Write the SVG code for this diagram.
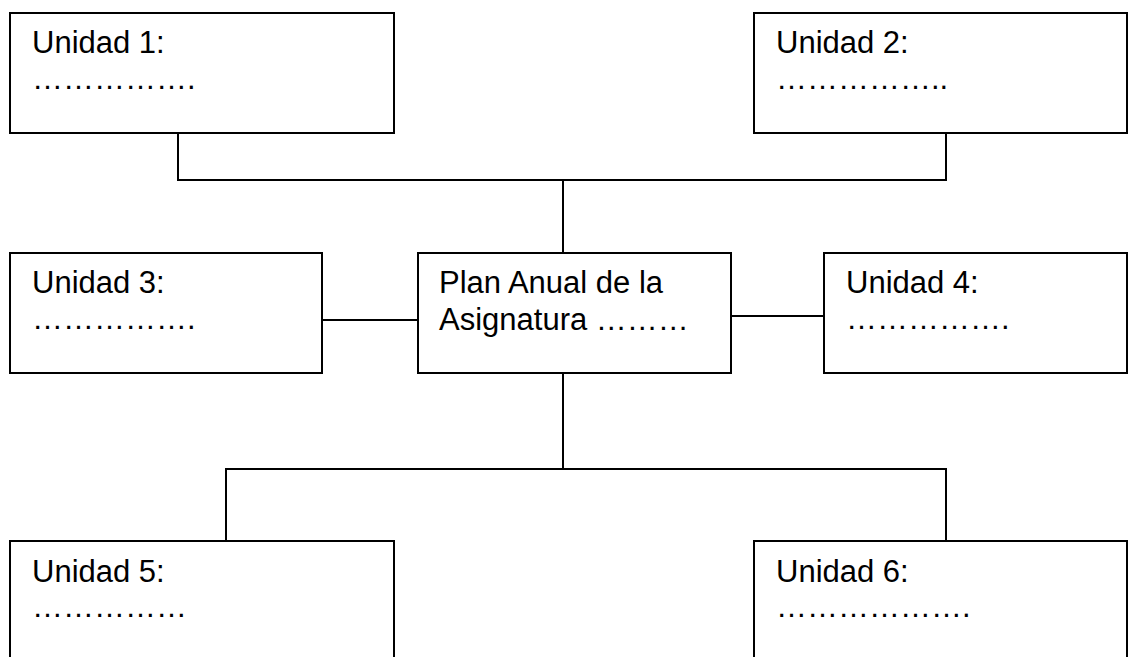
<svg xmlns="http://www.w3.org/2000/svg" width="1128" height="657" viewBox="0 0 1128 657">
<style>
.box{fill:#fff;stroke:#000;stroke-width:2}
.ln{fill:none;stroke:#000;stroke-width:2}
text{font-family:"Liberation Sans",Arial,sans-serif;font-size:31px;fill:#000}
</style>
<rect width="1128" height="657" fill="#fff"/>
<g id="connectors">
<polyline class="ln" points="178,133 178,180 946,180 946,133"/>
<line class="ln" x1="563" y1="180" x2="563" y2="253"/>
<line class="ln" x1="322" y1="320" x2="418" y2="320"/>
<line class="ln" x1="730" y1="316" x2="826" y2="316"/>
<line class="ln" x1="563" y1="373" x2="563" y2="469"/>
<polyline class="ln" points="226,541 226,469 946,469 946,541"/>
</g>
<g id="u1"><rect class="box" x="10" y="13" width="384" height="120"/><text x="32" y="53">Unidad 1:</text><text x="32" y="89">…………….</text></g>
<g id="u2"><rect class="box" x="754" y="13" width="373" height="120"/><text x="776" y="53">Unidad 2:</text><text x="776" y="89">……………..</text></g>
<g id="u3"><rect class="box" x="10" y="253" width="312" height="120"/><text x="32" y="293">Unidad 3:</text><text x="32" y="329">…………….</text></g>
<g id="center"><rect class="box" x="418" y="253" width="313" height="120"/><text x="439" y="293">Plan Anual de la</text><text x="439" y="330">Asignatura ………</text></g>
<g id="u4"><rect class="box" x="824" y="253" width="303" height="120"/><text x="846" y="293">Unidad 4:</text><text x="846" y="329">…………….</text></g>
<g id="u5"><rect class="box" x="10" y="541" width="384" height="130"/><text x="32" y="582">Unidad 5:</text><text x="32" y="617">……………</text></g>
<g id="u6"><rect class="box" x="754" y="541" width="373" height="130"/><text x="776" y="582">Unidad 6:</text><text x="776" y="617">……………….</text></g>
</svg>
